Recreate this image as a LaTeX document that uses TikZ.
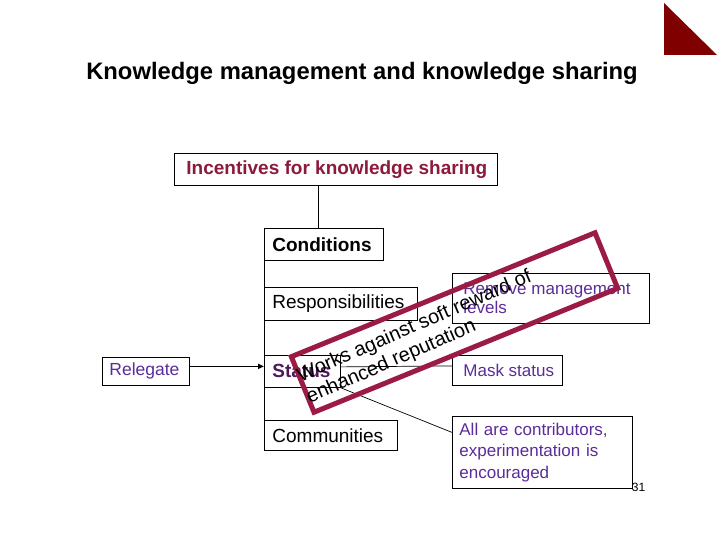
\documentclass[tikz,border=0pt]{standalone}
\usepackage{fontspec}
\setmainfont{Liberation Sans}
\usetikzlibrary{calc,arrows.meta}
\hyphenpenalty=10000
\exhyphenpenalty=10000
\newcommand{\leftbox}[2]{\makebox[#1][l]{#2}}
\definecolor{maroonA}{HTML}{8C1A3C}
\definecolor{warnred}{HTML}{9B1B45}
\definecolor{trired}{HTML}{800000}
\definecolor{purp}{HTML}{5B2C9A}
\definecolor{statpurp}{HTML}{4E1A5C}
\begin{document}
\begin{tikzpicture}[x=1pt,y=-1pt,
  box/.style={draw=black, line width=0.8pt, anchor=north west, align=left, inner ysep=0pt},
  conn/.style={draw=black, line width=0.7pt},
  big/.style={font=\fontsize{19}{22}\selectfont},
  bigb/.style={font=\fontsize{19}{22}\selectfont\bfseries},
  small/.style={font=\fontsize{17}{21}\selectfont, text=purp}]
\fill[white] (0,0) rectangle (720,540);
\useasboundingbox (0,0) rectangle (720,540);

\node[font=\fontsize{23.8}{27}\selectfont\bfseries] (title) at (362,73) {Knowledge management and knowledge sharing};
\fill[trired] (664,3) -- (664,55) -- (717,55) -- cycle;

\node[box, bigb, text=maroonA, inner xsep=12pt, minimum height=32pt] (incent) at (174,153) {\leftbox{299pt}{Incentives for knowledge sharing}};
\node[box, bigb, inner xsep=8pt, minimum height=32pt] (cond) at (264,228) {\leftbox{103pt}{Conditions}};
\node[box, big, inner xsep=8pt, minimum height=33pt] (resp) at (264,287) {\leftbox{137pt}{Responsibilities}};
\node[box, bigb, text=statpurp, inner xsep=8pt, minimum height=32pt] (status) at (264,355) {\leftbox{60pt}{Status}};
\node[box, big, inner xsep=8pt, minimum height=30pt] (comm) at (264,420) {\leftbox{117pt}{Communities}};
\node[box, font=\fontsize{17.5}{21}\selectfont, text=purp, inner xsep=7pt, minimum height=28pt] (releg) at (102,357) {\leftbox{73pt}{Relegate}};
\node[box, small, font=\fontsize{17}{20}\selectfont, inner xsep=11pt, minimum height=50pt] (remode) at (452,273) {\leftbox{175pt}{\shortstack[l]{Remove management\\levels}}};
\node[box, small, inner xsep=11pt, minimum height=30pt] (mask) at (452,355) {\leftbox{88pt}{Mask status}};
\node[box, small, font=\fontsize{17}{21.5}\selectfont, inner xsep=7pt, text width=166pt, minimum height=72pt] (all) at (452,416) {All are contributors,\\experimentation is\\encouraged};
\node[font=\fontsize{12}{14}\selectfont] (pg) at (638.5,487) {31};

\coordinate (incj) at ($(incent.south west)+(144,0)$);
\draw[conn] (incj) -- (incj |- cond.north);
\draw[conn] (cond.south west) -- (comm.north west);
\draw[conn, line width=1.6pt, -{Triangle[length=6pt,width=5pt]}] ([yshift=5pt]releg.east) -- ([yshift=5pt]status.west);
\draw[conn] ([yshift=4.5pt]status.east) -- ([yshift=4.5pt]mask.west);
\draw[conn] (status.south east) -- ([yshift=20pt]all.west);

\node[draw=warnred, line width=5pt, rotate=22.2, minimum width=328pt, minimum height=60pt, inner sep=0pt] (warn) at (454.5,322.5) {};
\node[rotate=23.5, anchor=west, align=left, inner sep=0pt, font=\fontsize{20}{23}\selectfont] (warntxt) at (303,388) {Works against soft reward of\\enhanced reputation};
\end{tikzpicture}
\end{document}
